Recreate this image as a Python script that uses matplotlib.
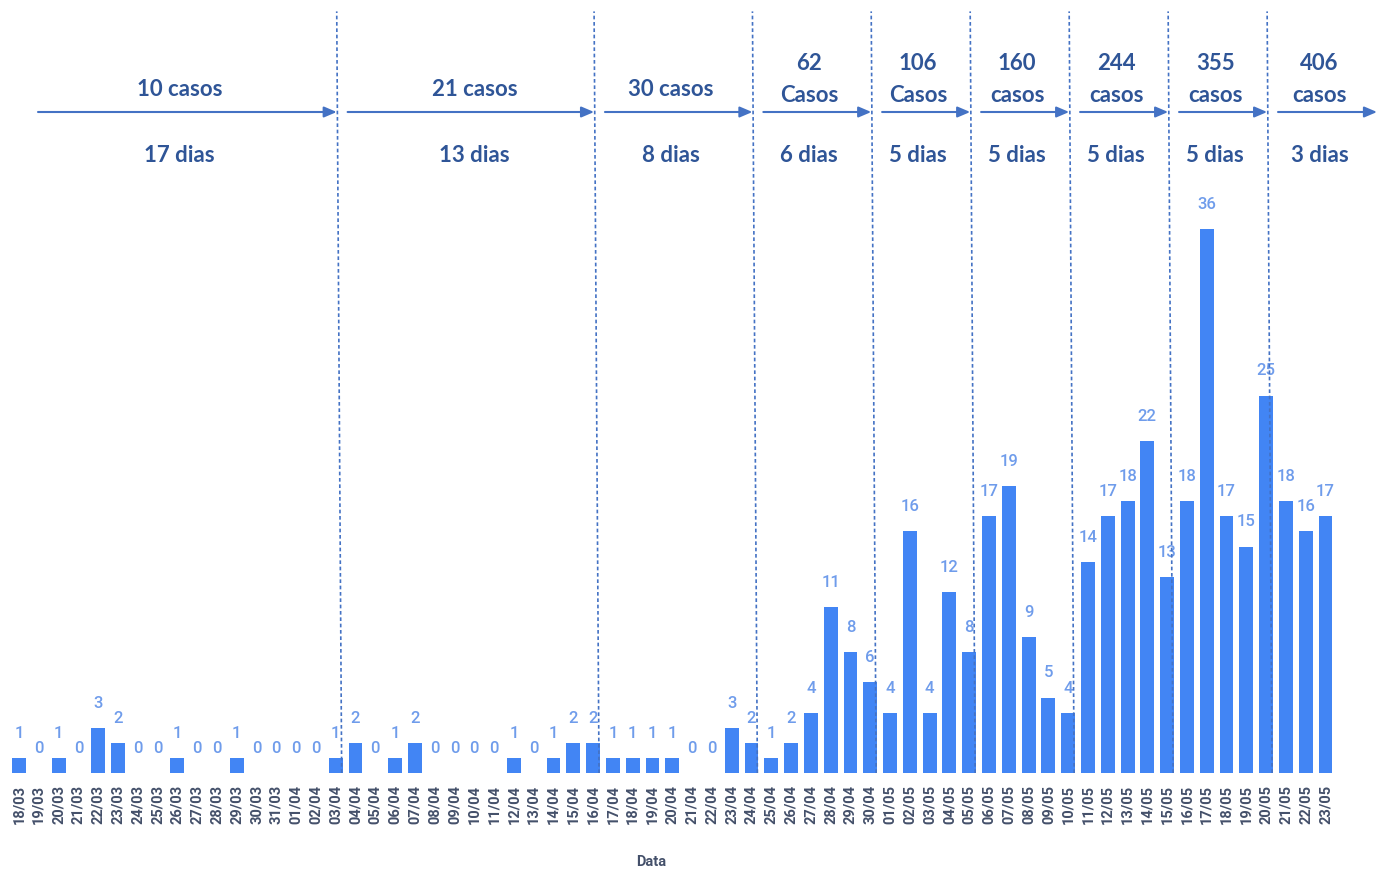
import numpy as np
from matplotlib import pyplot as plt

# Casos diários (18/03 a 23/05)
datas = ["18/03", "19/03", "20/03", "21/03", "22/03", "23/03", "24/03", "25/03",
         "26/03", "27/03", "28/03", "29/03", "30/03", "31/03", "01/04", "02/04",
         "03/04", "04/04", "05/04", "06/04", "07/04", "08/04", "09/04", "10/04",
         "11/04", "12/04", "13/04", "14/04", "15/04", "16/04", "17/04", "18/04",
         "19/04", "20/04", "21/04", "22/04", "23/04", "24/04", "25/04", "26/04",
         "27/04", "28/04", "29/04", "30/04", "01/05", "02/05", "03/05", "04/05",
         "05/05", "06/05", "07/05", "08/05", "09/05", "10/05", "11/05", "12/05",
         "13/05", "14/05", "15/05", "16/05", "17/05", "18/05", "19/05", "20/05",
         "21/05", "22/05", "23/05"]
casos = [1, 0, 1, 0, 3, 2, 0, 0, 1, 0, 0, 1, 0, 0, 0, 0,
         1, 2, 0, 1, 2, 0, 0, 0, 0, 1, 0, 1, 2, 2,
         1, 1, 1, 1, 0, 0, 3, 2,
         1, 2, 4, 11, 8, 6,
         4, 16, 4, 12, 8,
         17, 19, 9, 5, 4,
         14, 17, 18, 22, 13,
         18, 36, 17, 15, 25,
         18, 16, 17]

# Períodos (casos acumulados / duração)
total_periodo = [10, 21, 30, 62, 106, 160, 244, 355, 406]
dias_periodo = [17, 13, 8, 6, 5, 5, 5, 5, 3]
palavra = ["casos", "casos", "casos", "Casos", "Casos", "casos", "casos", "casos", "casos"]

cor_barra = "#4285F4"
cor_rotulo = "#6F9CEB"
cor_titulo = "#2F5597"
cor_seta = "#4472C4"
cor_eixo = "#44506A"

fig = plt.figure(figsize=(13.77, 8.70), dpi=100)
ax = fig.add_axes([0, 96/870, 1, 774/870])

x = np.arange(len(datas))
ax.bar(x, casos, width=0.7, color=cor_barra, zorder=2)
for xi, v in zip(x, casos):
    ax.annotate(str(v), (xi, v), xytext=(0, 13), textcoords="offset points",
                ha="center", va="bottom", fontsize=12, color=cor_rotulo,
                family="Roboto", weight="medium")

ax.set_xlim(-0.96, 68.6)
ax.set_ylim(0, 774/15.1)
ax.set_xticks(x)
ax.set_xticklabels(datas, rotation=90, fontsize=10.5, family="Roboto",
                   weight="bold", color=cor_eixo)
ax.tick_params(axis="x", length=0, pad=8)
ax.set_yticks([])
for s in ax.spines.values():
    s.set_visible(False)
ax.set_xlabel("Data", fontsize=10.5, family="Roboto", weight="bold", color=cor_eixo)
ax.xaxis.set_label_coords(651/1377, -0.105)

# linhas divisórias e setas
trans = ax.get_xaxis_transform()
fim = np.cumsum(dias_periodo)
limites = fim[:-1] - 0.5
for b in limites:
    ax.plot([b - 0.2, b - 0.45], [0, 0.984], transform=trans, color=cor_seta,
            lw=1.2, ls=(0, (2.2, 1.6)), zorder=3, clip_on=False)

def ya(py):
    return (774 - py) / 774

inicio = [0.96] + list(limites + 0.1)
final = list(limites - 0.45) + [68.6]
for i in range(len(total_periodo)):
    x0, x1 = inicio[i], final[i]
    xm = (x0 + x1) / 2 - 0.4
    if i == 1:
        xm += 0.6
    ax.annotate("", xy=(x1, ya(113)), xytext=(x0, ya(113)), xycoords=trans,
                textcoords=trans, annotation_clip=False,
                arrowprops=dict(arrowstyle="-|>,head_length=0.75,head_width=0.32",
                                color=cor_seta, lw=1.5, shrinkA=0, shrinkB=0))
    fonte = dict(fontsize=16, family="Lato", weight="bold", color=cor_titulo,
                 ha="center", va="center", transform=trans)
    if i < 3:
        ax.text(xm, ya(89), f"{total_periodo[i]} {palavra[i]}", **fonte)
    else:
        ax.text(xm, ya(63), str(total_periodo[i]), **fonte)
        ax.text(xm, ya(95), palavra[i], **fonte)
    ax.text(xm, ya(156), f"{dias_periodo[i]} dias", **fonte)

plt.savefig("out.png", dpi=100)
